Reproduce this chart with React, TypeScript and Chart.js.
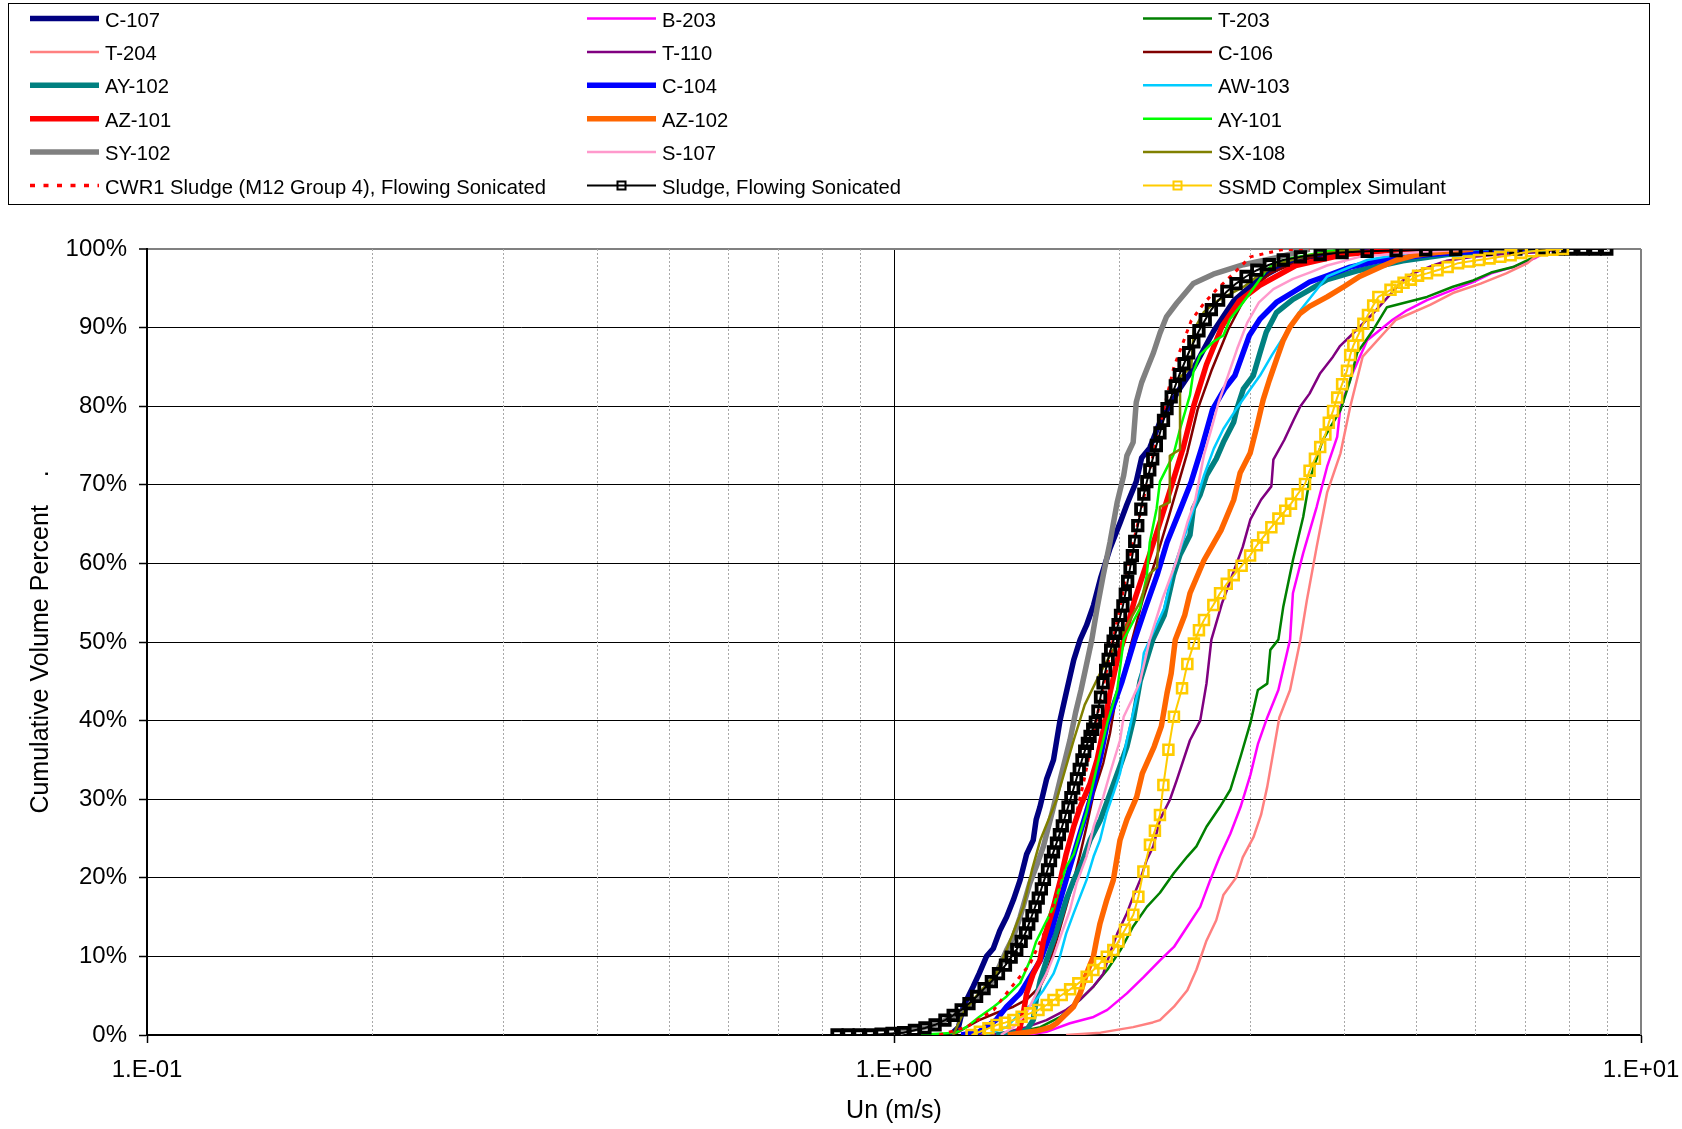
import React, { useEffect, useRef } from 'react';
import { Chart, registerables } from 'chart.js';

Chart.register(...registerables);

const FONT = '"Liberation Sans", Arial, Helvetica, sans-serif';

// ---------- categories / labels ----------
const seriesNames = [
  'C-107', 'B-203', 'T-203',
  'T-204', 'T-110', 'C-106',
  'AY-102', 'C-104', 'AW-103',
  'AZ-101', 'AZ-102', 'AY-101',
  'SY-102', 'S-107', 'SX-108',
  'CWR1 Sludge (M12 Group 4), Flowing Sonicated', 'Sludge, Flowing Sonicated', 'SSMD Complex Simulant',
];
const xTickValues = [0.1, 0.2, 0.3, 0.4, 0.5, 0.6, 0.7, 0.8, 0.9, 1, 2, 3, 4, 5, 6, 7, 8, 9, 10];
const xMajorTicks = [0.1, 1, 10];
const xMajorLabels = ['1.E-01', '1.E+00', '1.E+01'];
const xTitle = 'Un (m/s)';
const yTitle = 'Cumulative Volume Percent    .';

// ---------- series values (Un in m/s, cumulative volume %) ----------
const c107X = [1.19, 1.22, 1.238, 1.277, 1.30, 1.33, 1.358, 1.386, 1.415, 1.445, 1.475, 1.505, 1.536, 1.55, 1.568, 1.60, 1.635, 1.668, 1.70, 1.74, 1.775, 1.81, 1.85, 1.89, 1.946, 2.01, 2.05, 2.11, 2.145, 2.20, 2.27, 2.415, 2.52, 2.68, 2.85, 3.09, 3.42, 3.90, 4.50];
const c107Y = [0, 1.0, 3.6, 6.2, 7.8, 10.0, 11.0, 13.3, 15.0, 17.2, 19.7, 23.0, 24.8, 27.4, 29.0, 32.5, 35.0, 40.0, 43.5, 47.7, 50.3, 52.1, 54.7, 58.1, 61.9, 65.3, 67.5, 70.4, 73.4, 74.7, 78.0, 82.3, 84.9, 89.6, 93.4, 96.3, 98.6, 99.6, 100];

const b203X = [1.50, 1.60, 1.72, 1.85, 1.93, 2.05, 2.16, 2.27, 2.37, 2.47, 2.57, 2.65, 2.73, 2.82, 2.91, 3.00, 3.07, 3.16, 3.27, 3.39, 3.42, 3.53, 3.68, 3.80, 3.92, 3.96, 4.11, 4.30, 4.65, 4.86, 5.17, 5.60, 5.96, 6.30, 6.74, 7.20, 7.60];
const b203Y = [0, 0.4, 1.5, 2.3, 3.2, 5.3, 7.4, 9.5, 11.2, 13.8, 16.3, 19.7, 22.7, 25.6, 29.0, 33.1, 37.0, 40.4, 43.9, 50.3, 56.2, 61.3, 67.2, 72.3, 76.1, 79.9, 84.2, 88.4, 91.0, 92.2, 93.5, 94.8, 95.8, 96.9, 97.7, 98.8, 100];

const t203X = [1.35, 1.45, 1.57, 1.67, 1.775, 1.85, 1.93, 2.01, 2.09, 2.18, 2.27, 2.37, 2.47, 2.54, 2.62, 2.73, 2.82, 2.91, 3.00, 3.07, 3.16, 3.19, 3.27, 3.32, 3.42, 3.53, 3.60, 3.75, 3.96, 4.08, 4.17, 4.38, 4.57, 5.17, 5.60, 5.96, 6.30, 6.74, 7.20, 7.40, 7.60];
const t203Y = [0, 0.3, 1.0, 2.3, 4.5, 6.2, 8.3, 10.8, 13.8, 16.3, 18.1, 20.6, 22.7, 24.0, 26.5, 29.0, 31.2, 35.4, 39.7, 43.9, 44.7, 49.0, 50.3, 54.5, 60.4, 65.9, 70.6, 75.7, 79.5, 83.3, 86.8, 89.7, 92.6, 93.9, 95.2, 96.0, 97.0, 97.7, 99.0, 99.6, 100];

const t204X = [1.70, 1.89, 2.09, 2.22, 2.27, 2.37, 2.47, 2.54, 2.62, 2.70, 2.76, 2.87, 2.93, 3.03, 3.10, 3.16, 3.28, 3.39, 3.50, 3.57, 3.68, 3.80, 3.96, 4.08, 4.24, 4.70, 5.22, 5.60, 6.10, 6.60, 7.05, 7.30, 7.60];
const t204Y = [0, 0.3, 1.0, 1.6, 1.9, 3.6, 5.7, 8.3, 12.0, 14.6, 17.8, 20.0, 22.6, 25.2, 28.0, 31.6, 40.4, 43.9, 50.3, 55.3, 62.1, 69.0, 74.0, 79.9, 86.3, 91.0, 92.9, 94.4, 95.6, 96.9, 98.2, 99.4, 100];

const t110X = [1.30, 1.39, 1.505, 1.60, 1.70, 1.775, 1.85, 1.906, 1.946, 1.99, 2.05, 2.09, 2.135, 2.18, 2.224, 2.27, 2.34, 2.39, 2.49, 2.57, 2.62, 2.66, 2.75, 2.85, 2.93, 3.00, 3.10, 3.20, 3.22, 3.33, 3.43, 3.50, 3.60, 3.72, 3.87, 3.95, 4.08, 4.38, 4.80, 4.95, 5.30, 5.50, 5.96, 6.60, 7.30, 7.80];
const t110Y = [0, 0.2, 1.0, 1.9, 3.2, 4.5, 6.2, 7.8, 10.4, 12.9, 15.5, 17.6, 19.7, 22.3, 24.0, 27.4, 29.9, 32.4, 37.5, 40.0, 44.7, 50.3, 55.0, 59.0, 62.1, 65.6, 68.1, 69.8, 73.2, 75.7, 78.3, 80.0, 81.6, 84.2, 86.3, 87.6, 88.9, 91.8, 96.0, 96.9, 98.0, 98.5, 99.0, 99.4, 99.6, 100];

const c106X = [1.20, 1.25, 1.30, 1.37, 1.445, 1.505, 1.57, 1.60, 1.65, 1.70, 1.74, 1.775, 1.81, 1.85, 1.906, 1.946, 1.99, 2.03, 2.08, 2.15, 2.24, 2.33, 2.41, 2.47, 2.55, 2.66, 2.80, 2.92, 3.02, 3.20, 3.40, 3.70, 4.00];
const c106Y = [0, 1.0, 1.9, 2.8, 3.6, 4.5, 6.2, 7.8, 12.0, 16.3, 19.7, 23.0, 26.5, 30.7, 34.6, 38.4, 43.9, 46.0, 50.0, 55.2, 60.4, 65.8, 70.6, 74.1, 79.6, 84.5, 89.7, 93.0, 95.0, 97.0, 98.0, 99.3, 100];

const ay102X = [1.37, 1.45, 1.505, 1.536, 1.55, 1.57, 1.60, 1.635, 1.668, 1.70, 1.74, 1.79, 1.83, 1.89, 1.946, 2.007, 2.05, 2.09, 2.135, 2.22, 2.30, 2.366, 2.415, 2.49, 2.516, 2.568, 2.62, 2.70, 2.76, 2.85, 2.876, 2.936, 3.027, 3.09, 3.15, 3.25, 3.42, 3.60, 3.80, 4.20, 4.80, 5.50, 6.50, 7.50];
const ay102Y = [0, 0.3, 0.6, 1.9, 4.5, 7.0, 9.5, 12.0, 14.6, 17.2, 19.7, 22.2, 24.8, 27.4, 30.7, 34.2, 36.7, 40.0, 45.0, 50.3, 53.4, 58.5, 61.1, 63.6, 67.0, 68.7, 71.2, 73.3, 75.4, 78.0, 79.6, 82.2, 83.9, 86.8, 89.4, 91.9, 93.6, 94.8, 96.1, 97.3, 98.5, 99.3, 99.8, 100];

const c104X = [1.23, 1.30, 1.37, 1.415, 1.475, 1.57, 1.62, 1.67, 1.72, 1.775, 1.83, 1.89, 1.93, 2.02, 2.10, 2.17, 2.25, 2.32, 2.42, 2.50, 2.58, 2.67, 2.77, 2.86, 2.99, 3.09, 3.25, 3.42, 3.60, 3.80, 4.08, 4.45, 5.20, 6.00, 7.00];
const c104Y = [0, 0.4, 1.9, 3.6, 5.3, 9.5, 12.9, 17.2, 21.4, 25.7, 29.9, 35.4, 39.7, 45.0, 50.3, 54.3, 58.5, 62.7, 67.0, 70.4, 74.6, 79.6, 82.2, 83.9, 89.0, 91.1, 93.2, 94.5, 95.8, 96.6, 97.7, 98.5, 99.3, 99.7, 100];

const aw103X = [1.325, 1.415, 1.475, 1.536, 1.585, 1.635, 1.668, 1.70, 1.74, 1.81, 1.85, 1.887, 1.927, 1.966, 2.007, 2.05, 2.09, 2.135, 2.16, 2.20, 2.30, 2.37, 2.45, 2.53, 2.60, 2.68, 2.76, 2.87, 3.00, 3.09, 3.21, 3.50, 3.80, 4.30, 4.87, 5.60, 6.50];
const aw103Y = [0, 1.0, 2.8, 4.0, 5.7, 7.8, 10.0, 12.9, 15.5, 19.7, 22.7, 24.8, 28.3, 30.7, 33.3, 37.5, 41.0, 44.8, 48.6, 50.3, 54.3, 59.5, 63.5, 67.5, 71.2, 74.6, 77.1, 79.6, 82.2, 83.9, 86.6, 92.2, 96.5, 98.6, 99.5, 99.8, 100];

const az101X = [1.46, 1.475, 1.49, 1.505, 1.536, 1.568, 1.585, 1.635, 1.67, 1.70, 1.74, 1.775, 1.83, 1.87, 1.906, 1.946, 1.99, 2.03, 2.10, 2.19, 2.27, 2.36, 2.44, 2.52, 2.62, 2.75, 2.90, 3.08, 3.45, 4.00, 4.60, 5.20];
const az101Y = [0, 1.0, 2.8, 5.3, 7.8, 9.5, 12.0, 16.3, 19.7, 23.0, 26.5, 29.0, 32.0, 35.0, 38.8, 43.5, 47.7, 50.3, 55.4, 60.6, 65.2, 70.3, 74.8, 80.1, 85.3, 90.2, 93.4, 95.3, 97.9, 99.3, 99.8, 100];

const az102X = [1.42, 1.55, 1.62, 1.651, 1.739, 1.775, 1.81, 1.849, 1.867, 1.887, 1.927, 1.966, 2.007, 2.05, 2.113, 2.15, 2.23, 2.28, 2.32, 2.35, 2.38, 2.45, 2.49, 2.60, 2.74, 2.85, 2.906, 2.997, 3.06, 3.12, 3.18, 3.25, 3.32, 3.39, 3.495, 3.60, 3.80, 4.00, 4.20, 4.48, 4.71, 4.98, 5.38, 5.96];
const az102Y = [0, 0.5, 1.0, 1.5, 3.6, 5.3, 7.8, 10.0, 12.1, 14.2, 17.2, 19.7, 24.8, 27.4, 30.3, 33.3, 36.7, 39.3, 43.5, 46.0, 50.3, 53.4, 56.2, 60.4, 64.2, 68.1, 71.5, 74.0, 77.4, 80.8, 83.3, 85.9, 88.4, 90.1, 91.8, 92.7, 93.9, 95.2, 96.5, 97.7, 98.6, 99.2, 99.6, 100];

const ay101X = [1.07, 1.21, 1.25, 1.30, 1.36, 1.415, 1.475, 1.52, 1.55, 1.635, 1.70, 1.74, 1.81, 1.87, 1.93, 1.99, 2.03, 2.135, 2.18, 2.20, 2.247, 2.27, 2.366, 2.415, 2.49, 2.516, 2.568, 2.676, 2.76, 2.818, 2.906, 2.997, 3.15, 3.25, 3.42, 3.80, 4.20];
const ay101Y = [0, 0.3, 1.0, 2.3, 3.6, 4.9, 6.6, 9.4, 11.9, 16.3, 21.4, 23.0, 28.3, 34.2, 39.7, 43.9, 50.3, 54.3, 58.5, 62.7, 67.0, 70.4, 73.8, 77.1, 81.4, 84.3, 86.5, 88.2, 89.0, 91.1, 92.7, 94.4, 97.3, 98.3, 98.9, 99.7, 100];

const sy102X = [1.00, 1.04, 1.10, 1.15, 1.225, 1.277, 1.31, 1.358, 1.415, 1.445, 1.475, 1.52, 1.55, 1.585, 1.635, 1.668, 1.72, 1.75, 1.78, 1.84, 1.87, 1.906, 1.946, 1.99, 2.03, 2.05, 2.09, 2.11, 2.145, 2.18, 2.225, 2.27, 2.317, 2.39, 2.516, 2.676, 2.936, 3.25, 3.60];
const sy102Y = [0, 0.6, 1.0, 1.5, 2.8, 4.2, 5.3, 7.0, 10.8, 12.5, 15.0, 19.3, 21.4, 24.0, 29.0, 32.4, 37.5, 41.0, 43.9, 50.3, 54.3, 58.5, 62.7, 67.8, 71.2, 73.7, 75.4, 80.5, 83.0, 84.7, 86.8, 89.3, 91.4, 93.1, 95.6, 96.8, 98.0, 98.9, 100];

const s107X = [1.39, 1.445, 1.505, 1.55, 1.60, 1.635, 1.67, 1.72, 1.756, 1.81, 1.85, 1.906, 1.946, 2.007, 2.03, 2.09, 2.135, 2.20, 2.29, 2.39, 2.47, 2.53, 2.60, 2.66, 2.72, 2.80, 2.88, 2.97, 3.08, 3.22, 3.42, 3.60, 3.80, 4.20, 5.00, 6.00];
const s107Y = [0, 1.0, 2.8, 5.3, 7.8, 10.0, 12.5, 15.9, 19.3, 22.7, 26.5, 30.3, 33.3, 37.5, 40.5, 43.0, 45.0, 50.3, 55.6, 60.4, 65.2, 68.0, 73.8, 77.1, 80.5, 83.9, 87.3, 90.6, 93.2, 94.9, 96.2, 97.0, 97.9, 99.0, 99.6, 100];

const sx108X = [1.20, 1.238, 1.277, 1.31, 1.37, 1.415, 1.43, 1.49, 1.53, 1.57, 1.65, 1.74, 1.80, 1.887, 2.00, 2.13, 2.20, 2.25, 2.27, 2.34, 2.34, 2.415, 2.415, 2.50, 2.52, 2.60, 2.72, 2.94, 3.09, 3.29, 3.60, 4.20];
const sx108Y = [0, 2.8, 4.5, 5.7, 7.8, 10.8, 12.0, 16.3, 21.0, 24.8, 29.9, 37.5, 42.0, 46.0, 50.3, 54.9, 58.7, 59.5, 67.2, 67.8, 73.7, 74.5, 83.7, 85.0, 89.7, 92.0, 93.5, 95.2, 96.8, 98.2, 99.2, 100];

const cwr1X = [1.15, 1.25, 1.36, 1.42, 1.52, 1.60, 1.67, 1.73, 1.80, 1.86, 1.93, 2.00, 2.07, 2.15, 2.22, 2.30, 2.37, 2.44, 2.50, 2.60, 2.70, 2.85, 3.00, 3.30, 3.60];
const cwr1Y = [0, 1.0, 3.2, 5.5, 9.0, 13.6, 19.7, 25.4, 32.8, 39.5, 46.8, 53.7, 60.9, 67.5, 73.6, 79.8, 85.0, 88.2, 90.9, 93.1, 94.8, 96.9, 99.0, 99.9, 100];

const sludgeX = [
  0.839, 0.868, 0.898, 0.929, 0.961, 0.994, 1.03, 1.065, 1.10, 1.135,
  1.17, 1.20, 1.23, 1.26, 1.29, 1.32, 1.35, 1.38, 1.41, 1.435,
  1.46, 1.48, 1.50, 1.515, 1.53, 1.545, 1.56, 1.575, 1.59, 1.605,
  1.62, 1.635, 1.65, 1.665, 1.68, 1.695, 1.71, 1.725, 1.74, 1.755,
  1.77, 1.785, 1.80, 1.815, 1.83, 1.845, 1.86, 1.875, 1.89, 1.905,
  1.92, 1.935, 1.95, 1.965, 1.98, 1.995, 2.01, 2.025, 2.04, 2.055,
  2.07, 2.085, 2.10, 2.12, 2.14, 2.16, 2.18, 2.20, 2.22, 2.245,
  2.27, 2.295, 2.32, 2.35, 2.38, 2.41, 2.445, 2.48, 2.52, 2.56,
  2.61, 2.66, 2.72, 2.79, 2.87, 2.96, 3.06, 3.18, 3.32, 3.50,
  3.72, 3.98, 4.30, 4.70, 5.15, 5.65, 6.20, 6.80, 7.40, 7.75,
  8.05, 8.37, 8.68, 9.00,
];
const sludgeY = [
  0, 0, 0, 0, 0.1, 0.2, 0.3, 0.6, 0.9, 1.3,
  1.9, 2.5, 3.2, 4.0, 4.9, 5.9, 6.8, 7.8, 8.9, 9.9,
  10.9, 11.9, 13.0, 14.1, 15.2, 16.3, 17.4, 18.6, 19.8, 21.0,
  22.2, 23.3, 24.4, 25.5, 26.6, 27.8, 29.0, 30.2, 31.4, 32.6,
  33.8, 35.0, 36.1, 37.1, 38.0, 38.9, 39.8, 41.2, 43.0, 44.8,
  46.4, 47.8, 49.0, 50.1, 51.1, 52.2, 53.4, 54.6, 56.1, 57.7,
  59.4, 61.0, 62.8, 64.8, 66.9, 68.8, 70.4, 71.9, 73.3, 75.0,
  76.6, 78.2, 79.7, 81.2, 82.6, 84.0, 85.4, 86.8, 88.2, 89.6,
  91.0, 92.3, 93.5, 94.6, 95.6, 96.5, 97.3, 98.0, 98.6, 99.0,
  99.3, 99.55, 99.7, 99.8, 99.88, 99.93, 99.96, 99.98, 100, 100,
  100, 100, 100, 100,
];

const ssmdX = [
  1.27, 1.303, 1.338, 1.372, 1.408, 1.445, 1.482, 1.521, 1.561, 1.601,
  1.635, 1.677, 1.721, 1.765, 1.811, 1.849, 1.887, 1.927, 1.966, 1.997,
  2.038, 2.091, 2.124, 2.157, 2.201, 2.235, 2.27, 2.294, 2.33, 2.37,
  2.43, 2.47, 2.52, 2.56, 2.60, 2.676, 2.732, 2.789, 2.85, 2.92,
  2.997, 3.06, 3.12, 3.20, 3.27, 3.34, 3.40, 3.47, 3.55, 3.60,
  3.66, 3.72, 3.78, 3.82, 3.87, 3.92, 3.98, 4.04, 4.08, 4.12,
  4.18, 4.25, 4.31, 4.38, 4.45, 4.62, 4.71, 4.81, 4.92, 5.03,
  5.17, 5.34, 5.51, 5.69, 5.88, 6.07, 6.27, 6.48, 6.69, 6.91,
  7.14, 7.37, 7.61, 7.86,
];
const ssmdY = [
  0, 0.42, 0.85, 1.27, 1.57, 1.91, 2.33, 2.76, 3.18, 3.82,
  4.45, 5.09, 5.81, 6.57, 7.42, 8.27, 9.12, 9.97, 10.8, 11.9,
  13.4, 15.3, 17.6, 20.8, 24.2, 26.0, 28.0, 31.8, 36.3, 40.5,
  44.1, 47.2, 49.8, 51.5, 52.8, 54.7, 56.2, 57.4, 58.5, 59.7,
  61.0, 62.3, 63.3, 64.6, 65.7, 66.7, 67.6, 68.8, 70.1, 71.8,
  73.3, 74.8, 76.4, 77.9, 79.4, 81.1, 82.8, 84.5, 86.5, 87.7,
  89.0, 90.5, 91.6, 92.8, 93.9, 94.8, 95.2, 95.7, 96.1, 96.6,
  96.9, 97.3, 97.7, 98.2, 98.4, 98.6, 98.8, 99.0, 99.2, 99.5,
  99.7, 99.8, 99.9, 100,
];

// ---------- styles (not data) ----------
type SeriesStyle = { color: string; width: number; dash?: number[]; marker?: boolean; markerBorder?: number; markerRadius?: number };
const THICK = 5.5;
const THIN = 2.5;
const styles: SeriesStyle[] = [
  { color: '#000080', width: THICK },
  { color: '#FF00FF', width: THIN },
  { color: '#008000', width: THIN },
  { color: '#FF8080', width: THIN },
  { color: '#800080', width: THIN },
  { color: '#800000', width: THIN },
  { color: '#008080', width: THICK },
  { color: '#0000FF', width: THICK },
  { color: '#00CCFF', width: THIN },
  { color: '#FF0000', width: THICK },
  { color: '#FF6600', width: THICK },
  { color: '#00FF00', width: THIN },
  { color: '#808080', width: THICK },
  { color: '#FF99CC', width: THIN },
  { color: '#808000', width: THIN },
  { color: '#FF0000', width: 3, dash: [4, 6] },
  { color: '#000000', width: 2, marker: true, markerBorder: 3.8, markerRadius: 6.7 },
  { color: '#FFCC00', width: 2, marker: true, markerBorder: 2.6, markerRadius: 7.0 },
];

const near = (a: number, b: number) => Math.abs(a - b) < 1e-6 * Math.max(1, Math.abs(b));
const isMajorX = (v: number) => xMajorTicks.some((m) => near(v, m));

const zip = (xs: number[], ys: number[]) => xs.map((x, i) => ({ x, y: ys[i] }));

const gridPlugin = {
  id: 'excelGrid',
  beforeDatasetsDraw(chart: any) {
    const { ctx, chartArea: a, scales } = chart;
    const xs = scales.x;
    ctx.save();
    ctx.lineWidth = 1;
    ctx.strokeStyle = '#a8a8a8';
    ctx.setLineDash([2, 2]);
    xTickValues.forEach((v) => {
      if (isMajorX(v)) return;
      const px = Math.round(xs.getPixelForValue(v)) + 0.5;
      ctx.beginPath();
      ctx.moveTo(px, a.top);
      ctx.lineTo(px, a.bottom);
      ctx.stroke();
    });
    ctx.setLineDash([]);
    ctx.strokeStyle = '#808080';
    ctx.lineWidth = 2;
    ctx.beginPath();
    ctx.moveTo(a.right, a.top);
    ctx.lineTo(a.right, a.bottom);
    ctx.stroke();
    ctx.restore();
  },
};

const legendPlugin = {
  id: 'boxLegend',
  afterDraw(chart: any) {
    const ctx: CanvasRenderingContext2D = chart.ctx;
    const colX = [30, 587, 1143];
    const rowY = [21, 54.4, 87.8, 121.2, 154.6, 188];
    const sampleLen = 69;
    ctx.save();
    ctx.strokeStyle = '#000';
    ctx.lineWidth = 1;
    ctx.strokeRect(8.5, 3.5, 1641, 201);
    ctx.font = `20.2px ${FONT}`;
    ctx.textBaseline = 'middle';
    ctx.textAlign = 'left';
    seriesNames.forEach((name, i) => {
      const st = styles[i];
      const col = i % 3;
      const row = Math.floor(i / 3);
      const x0 = colX[col];
      const ty = rowY[row];
      const ly = ty - 2.5;
      ctx.save();
      ctx.strokeStyle = st.color;
      ctx.lineWidth = st.dash ? 3.5 : st.width;
      ctx.setLineDash(st.dash ? [5, 8.5] : []);
      ctx.lineCap = 'butt';
      ctx.beginPath();
      ctx.moveTo(x0, ly);
      ctx.lineTo(x0 + sampleLen, ly);
      ctx.stroke();
      if (st.marker) {
        ctx.setLineDash([]);
        ctx.lineWidth = 2;
        ctx.strokeRect(x0 + sampleLen / 2 - 4, ly - 4, 8, 8);
      }
      ctx.restore();
      ctx.fillStyle = '#000';
      ctx.fillText(name, x0 + 75, ty);
    });
    ctx.restore();
  },
};

export default function App() {
  const ref = useRef<HTMLCanvasElement>(null);

  useEffect(() => {
    const canvas = ref.current;
    if (!canvas) return;
    const xsAll = [c107X, b203X, t203X, t204X, t110X, c106X, ay102X, c104X, aw103X, az101X, az102X, ay101X, sy102X, s107X, sx108X, cwr1X, sludgeX, ssmdX];
    const ysAll = [c107Y, b203Y, t203Y, t204Y, t110Y, c106Y, ay102Y, c104Y, aw103Y, az101Y, az102Y, ay101Y, sy102Y, s107Y, sx108Y, cwr1Y, sludgeY, ssmdY];
    const n = seriesNames.length;
    const datasets = seriesNames.map((name, i) => {
      const st = styles[i];
      const r = st.marker ? (st.markerRadius as number) : 0;
      return {
        label: name,
        data: zip(xsAll[i], ysAll[i]),
        borderColor: st.color,
        backgroundColor: st.color,
        borderWidth: st.width,
        borderDash: st.dash || [],
        borderCapStyle: 'butt',
        borderJoinStyle: 'round',
        tension: 0,
        fill: false,
        pointRadius: r,
        pointHoverRadius: r,
        pointStyle: 'rect',
        pointBorderColor: st.color,
        pointBackgroundColor: 'rgba(255,255,255,0)',
        pointBorderWidth: st.markerBorder || 0,
        order: n - i,
      };
    });

    const chart = new Chart(canvas, {
      type: 'line',
      data: { datasets } as any,
      options: {
        responsive: false,
        animation: false,
        devicePixelRatio: 1,
        events: [],
        layout: { padding: { left: 0, right: 41, top: 249, bottom: 0 } },
        plugins: {
          legend: { display: false },
          tooltip: { enabled: false },
          title: { display: false },
        },
        scales: {
          x: {
            type: 'logarithmic',
            min: 0.1,
            max: 10,
            afterBuildTicks: (scale: any) => {
              scale.ticks = xTickValues.map((v) => ({ value: v, major: false }));
            },
            afterFit: (scale: any) => {
              scale.height = 94;
              scale.paddingLeft = 0;
              scale.paddingRight = 0;
            },
            ticks: {
              autoSkip: false,
              maxRotation: 0,
              minRotation: 0,
              padding: 13,
              color: '#000',
              font: { family: FONT, size: 24 },
              callback: (v: any) => {
                const idx = xMajorTicks.findIndex((m) => near(Number(v), m));
                return idx >= 0 ? xMajorLabels[idx] : '';
              },
            },
            grid: {
              color: (c: any) => (c.tick && near(c.tick.value, 1) ? '#000000' : 'rgba(0,0,0,0)'),
              lineWidth: 1,
              tickLength: 8,
              tickWidth: 1.5,
              tickColor: (c: any) => (c.tick && isMajorX(c.tick.value) ? '#000000' : 'rgba(0,0,0,0)'),
            },
            border: { color: '#000', width: 2 },
            title: {
              display: true,
              text: xTitle,
              color: '#000',
              font: { family: FONT, size: 25 },
              padding: { top: 0, bottom: 3 },
            },
          },
          y: {
            type: 'linear',
            min: 0,
            max: 100,
            afterFit: (scale: any) => {
              scale.width = 147;
            },
            ticks: {
              stepSize: 10,
              padding: 12,
              color: '#000',
              font: { family: FONT, size: 24 },
              callback: (v: any) => `${v}%`,
            },
            grid: {
              color: (c: any) => (c.tick && c.tick.value === 100 ? '#808080' : '#000000'),
              lineWidth: (c: any) => (c.tick && c.tick.value === 100 ? 2 : 1),
              tickLength: 8,
              tickWidth: 1.5,
              tickColor: '#000000',
            },
            border: { color: '#000', width: 2 },
            title: {
              display: true,
              text: yTitle,
              color: '#000',
              font: { family: FONT, size: 25 },
              padding: { top: 26, bottom: 0 },
            },
          },
        },
      } as any,
      plugins: [gridPlugin, legendPlugin],
    });
    return () => chart.destroy();
  }, []);

  return (
    <div style={{ position: 'absolute', left: 0, top: 0, width: 1682, height: 1129, background: '#fff' }}>
      <canvas ref={ref} width={1682} height={1129} style={{ display: 'block', width: 1682, height: 1129 }} />
    </div>
  );
}
